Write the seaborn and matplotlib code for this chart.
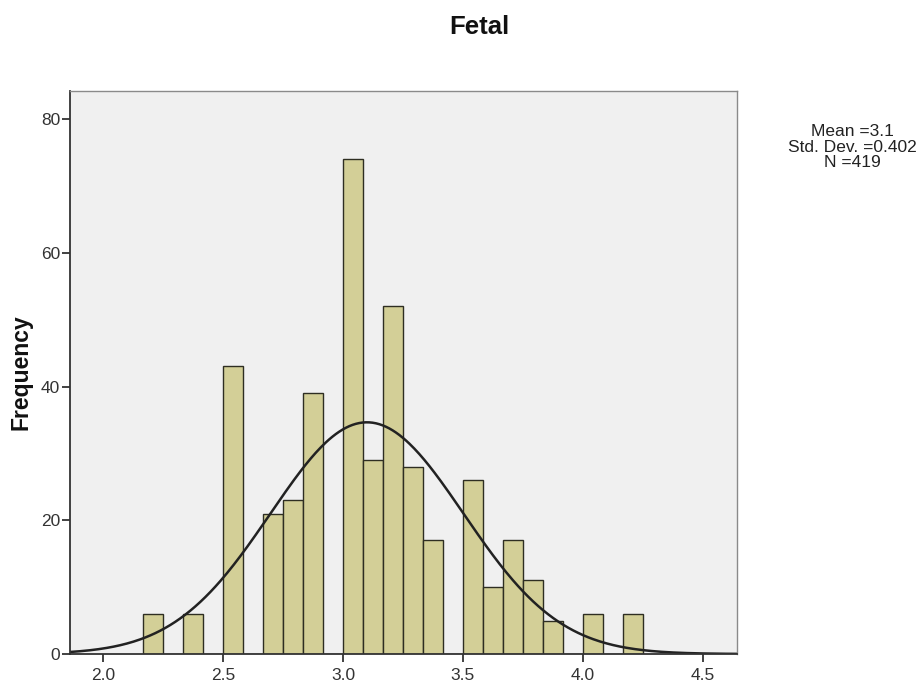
import numpy as np
import pandas as pd
import matplotlib
matplotlib.use("Agg")
import matplotlib.pyplot as plt
import seaborn as sns

# Data
bin_starts = [2.1667, 2.3333, 2.5, 2.6667, 2.75, 2.8333, 3.0, 3.0833, 3.1667,
              3.25, 3.3333, 3.5, 3.5833, 3.6667, 3.75, 3.8333, 4.0, 4.1667]
counts = [6, 6, 43, 21, 23, 39, 74, 29, 52, 28, 17, 26, 10, 17, 11, 5, 6, 6]
bin_width = 1.0 / 12
mean_val = 3.1
std_val = 0.402
n_val = 419
x_ticks = [2.0, 2.5, 3.0, 3.5, 4.0, 4.5]
y_ticks = [0, 20, 40, 60, 80]

sns.set_theme(style="white")
plt.rcParams['font.family'] = ['Liberation Sans', 'DejaVu Sans']

fig = plt.figure(figsize=(9.2, 6.86), dpi=100)
ax = fig.add_axes([70 / 920, 1 - 654 / 686, (737 - 70) / 920, (654 - 91) / 686])
ax.set_facecolor('#f0f0f0')

df = pd.DataFrame({"value": [b + bin_width / 2 for b in bin_starts], "count": counts})
sns.histplot(data=df, x="value", weights="count", binwidth=bin_width,
             binrange=(2.1667, 2.1667 + 25 * bin_width), ax=ax,
             color='#d3cf97', edgecolor='#2e2e22', linewidth=1.0, alpha=1.0)

xlim = (1.8625, 4.642)
xs = np.linspace(xlim[0], xlim[1], 400)
ys = n_val * bin_width * np.exp(-0.5 * ((xs - mean_val) / std_val) ** 2) / (std_val * np.sqrt(2 * np.pi))
sns.lineplot(x=xs, y=ys, ax=ax, color='#222222', linewidth=1.8)

ax.set_xlim(*xlim)
ax.set_ylim(0, 84.2)
ax.set_xticks(x_ticks)
ax.set_xticklabels([f"{t:.1f}" for t in x_ticks])
ax.set_yticks(y_ticks)
ax.tick_params(axis='both', which='both', direction='out', length=6, width=1.3,
               color='#333333', labelsize=12.5, labelcolor='#333333', bottom=True, left=True)
ax.tick_params(axis='y', pad=1)
ax.tick_params(axis='x', pad=4)
ax.set_xlabel("")
ax.set_ylabel("Frequency", fontsize=16.5, fontweight='bold', color='#111111')
ax.yaxis.set_label_coords(-38 / 667, 0.5)
for side in ['top', 'right']:
    ax.spines[side].set_color('#8a8a8a')
    ax.spines[side].set_linewidth(1.0)
for side in ['left', 'bottom']:
    ax.spines[side].set_color('#333333')
    ax.spines[side].set_linewidth(1.3)

fig.text(479 / 920, 1 - 27 / 686, "Fetal", ha='center', va='center',
         fontsize=18.5, fontweight='bold', color='#111111')
fig.text(852 / 920, 1 - 147 / 686,
         f"Mean ={mean_val}\nStd. Dev. ={std_val}\nN ={n_val}",
         ha='center', va='center', fontsize=12.5, color='#222222', linespacing=1.05)

fig.savefig("out.png", dpi=100)
